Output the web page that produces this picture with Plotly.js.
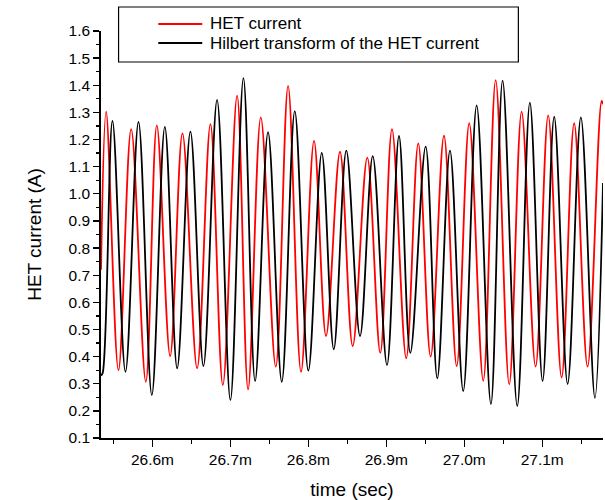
<!DOCTYPE html>
<html>
<head>
<meta charset="utf-8">
<script src="https://cdn.plot.ly/plotly-3.0.1.min.js"></script>
<style>
  html, body { margin: 0; padding: 0; background: #fff; }
  #chart { width: 605px; height: 500px; }
</style>
</head>
<body>
<div id="chart"></div>
<script>
// time in ms (labels shown with "m" suffix), current in A
const hetTime = [26.534, 26.5406, 26.5564, 26.5727, 26.5915, 26.6056, 26.6227, 26.6385, 26.6573, 26.6744,
  26.6903, 26.7086, 26.7227, 26.7390, 26.7582, 26.7740, 26.7906, 26.8073, 26.8227, 26.8406,
  26.8569, 26.8756, 26.8923, 26.9073, 26.9256, 26.9410, 26.9569, 26.9740, 26.9903, 27.0064,
  27.0244, 27.0403, 27.0577, 27.0736, 27.0915, 27.1077, 27.1249, 27.1410, 27.1582, 27.1762, 27.178];
const hetCurrent = [0.72, 1.303, 0.350, 1.238, 0.307, 1.252, 0.402, 1.223, 0.357, 1.257,
  0.295, 1.362, 0.279, 1.282, 0.363, 1.398, 0.344, 1.195, 0.476, 1.155,
  0.439, 1.133, 0.414, 1.238, 0.394, 1.186, 0.400, 1.214, 0.365, 1.260,
  0.311, 1.419, 0.298, 1.303, 0.363, 1.289, 0.323, 1.260, 0.363, 1.342, 1.33];

const hilTime = [26.534, 26.5362, 26.5487, 26.5654, 26.5821, 26.5992, 26.6159, 26.6317, 26.6487, 26.6654,
  26.6829, 26.7000, 26.7167, 26.7317, 26.7483, 26.7659, 26.7826, 26.8000, 26.8172, 26.8326,
  26.8487, 26.8663, 26.8826, 26.9009, 26.9163, 26.9308, 26.9505, 26.9654, 26.9817, 26.9987,
  27.0159, 27.0342, 27.0492, 27.0680, 27.0842, 27.1005, 27.1154, 27.1326, 27.1496, 27.1676, 27.178];
const hilCurrent = [0.33, 0.34, 1.269, 0.344, 1.265, 0.258, 1.247, 0.357, 1.229, 0.365,
  1.346, 0.240, 1.426, 0.310, 1.227, 0.307, 1.305, 0.348, 1.151, 0.427,
  1.159, 0.476, 1.139, 0.369, 1.213, 0.414, 1.174, 0.320, 1.159, 0.273,
  1.326, 0.225, 1.417, 0.218, 1.336, 0.310, 1.284, 0.299, 1.282, 0.248, 1.04];

const seriesNames = ['HET current', 'Hilbert transform of the HET current'];
const seriesColors = ['#ff0000', '#000000'];

const FONT = 'Arial, "Liberation Sans", Helvetica, sans-serif';

const traces = [
  { x: hetTime, y: hetCurrent, name: seriesNames[0], type: 'scatter', mode: 'lines',
    line: { color: seriesColors[0], width: 1.8, shape: 'spline', smoothing: 1 } },
  { x: hilTime, y: hilCurrent, name: seriesNames[1], type: 'scatter', mode: 'lines',
    line: { color: seriesColors[1], width: 1.8, shape: 'spline', smoothing: 1 } }
];

// custom legend geometry (paper coords)
const legBox = { x0: 0.0350, x1: 0.8314, y0: 0.9238, y1: 1.0590 };
const legRowsY = [1.0172, 0.9705];
const legLineX = [0.1141, 0.2017];
const legTextX = 0.2126;

const shapes = [
  { type: 'rect', xref: 'paper', yref: 'paper', x0: legBox.x0, x1: legBox.x1, y0: legBox.y0, y1: legBox.y1,
    line: { color: '#000', width: 1.2 }, fillcolor: '#fff', layer: 'above' }
];
const annotations = [];
seriesNames.forEach((n, i) => {
  shapes.push({ type: 'line', xref: 'paper', yref: 'paper', x0: legLineX[0], x1: legLineX[1],
    y0: legRowsY[i], y1: legRowsY[i], line: { color: seriesColors[i], width: 1.8 }, layer: 'above' });
  annotations.push({ xref: 'paper', yref: 'paper', x: legTextX, y: legRowsY[i], text: n,
    showarrow: false, xanchor: 'left', yanchor: 'middle', font: { family: FONT, size: 17, color: '#000' } });
});

const layout = {
  width: 605, height: 500,
  margin: { l: 101, r: 2, t: 31, b: 62 },
  paper_bgcolor: '#fff', plot_bgcolor: '#fff',
  showlegend: false,
  font: { family: FONT, color: '#000' },
  xaxis: {
    range: [26.534, 27.178], tickmode: 'linear', tick0: 26.6, dtick: 0.1,
    tickformat: '.1f', ticksuffix: 'm',
    showgrid: false, zeroline: false, showline: true, linecolor: '#000', linewidth: 1.8,
    ticks: 'outside', ticklen: 7, tickwidth: 1.3, tickcolor: '#000',
    minor: { tick0: 26.55, dtick: 0.1, ticks: 'outside', ticklen: 4, tickwidth: 1.3, tickcolor: '#000', showgrid: false },
    tickfont: { family: FONT, size: 15.5, color: '#000' },
    title: { text: 'time (sec)', font: { family: FONT, size: 19, color: '#000' } }
  },
  yaxis: {
    range: [0.1, 1.6], tickmode: 'linear', tick0: 0.1, dtick: 0.1, tickformat: '.1f',
    showgrid: false, zeroline: false, showline: true, linecolor: '#000', linewidth: 1.8,
    ticks: 'outside', ticklen: 6, tickwidth: 1.3, tickcolor: '#000',
    minor: { tick0: 0.15, dtick: 0.1, ticks: 'outside', ticklen: 3, tickwidth: 1.3, tickcolor: '#000', showgrid: false },
    tickfont: { family: FONT, size: 15.5, color: '#000' },
    title: { text: 'HET current (A)', standoff: 22, font: { family: FONT, size: 19, color: '#000' } }
  },
  shapes: shapes,
  annotations: annotations
};

Plotly.newPlot('chart', traces, layout, { displayModeBar: false, staticPlot: true });
</script>
</body>
</html>
